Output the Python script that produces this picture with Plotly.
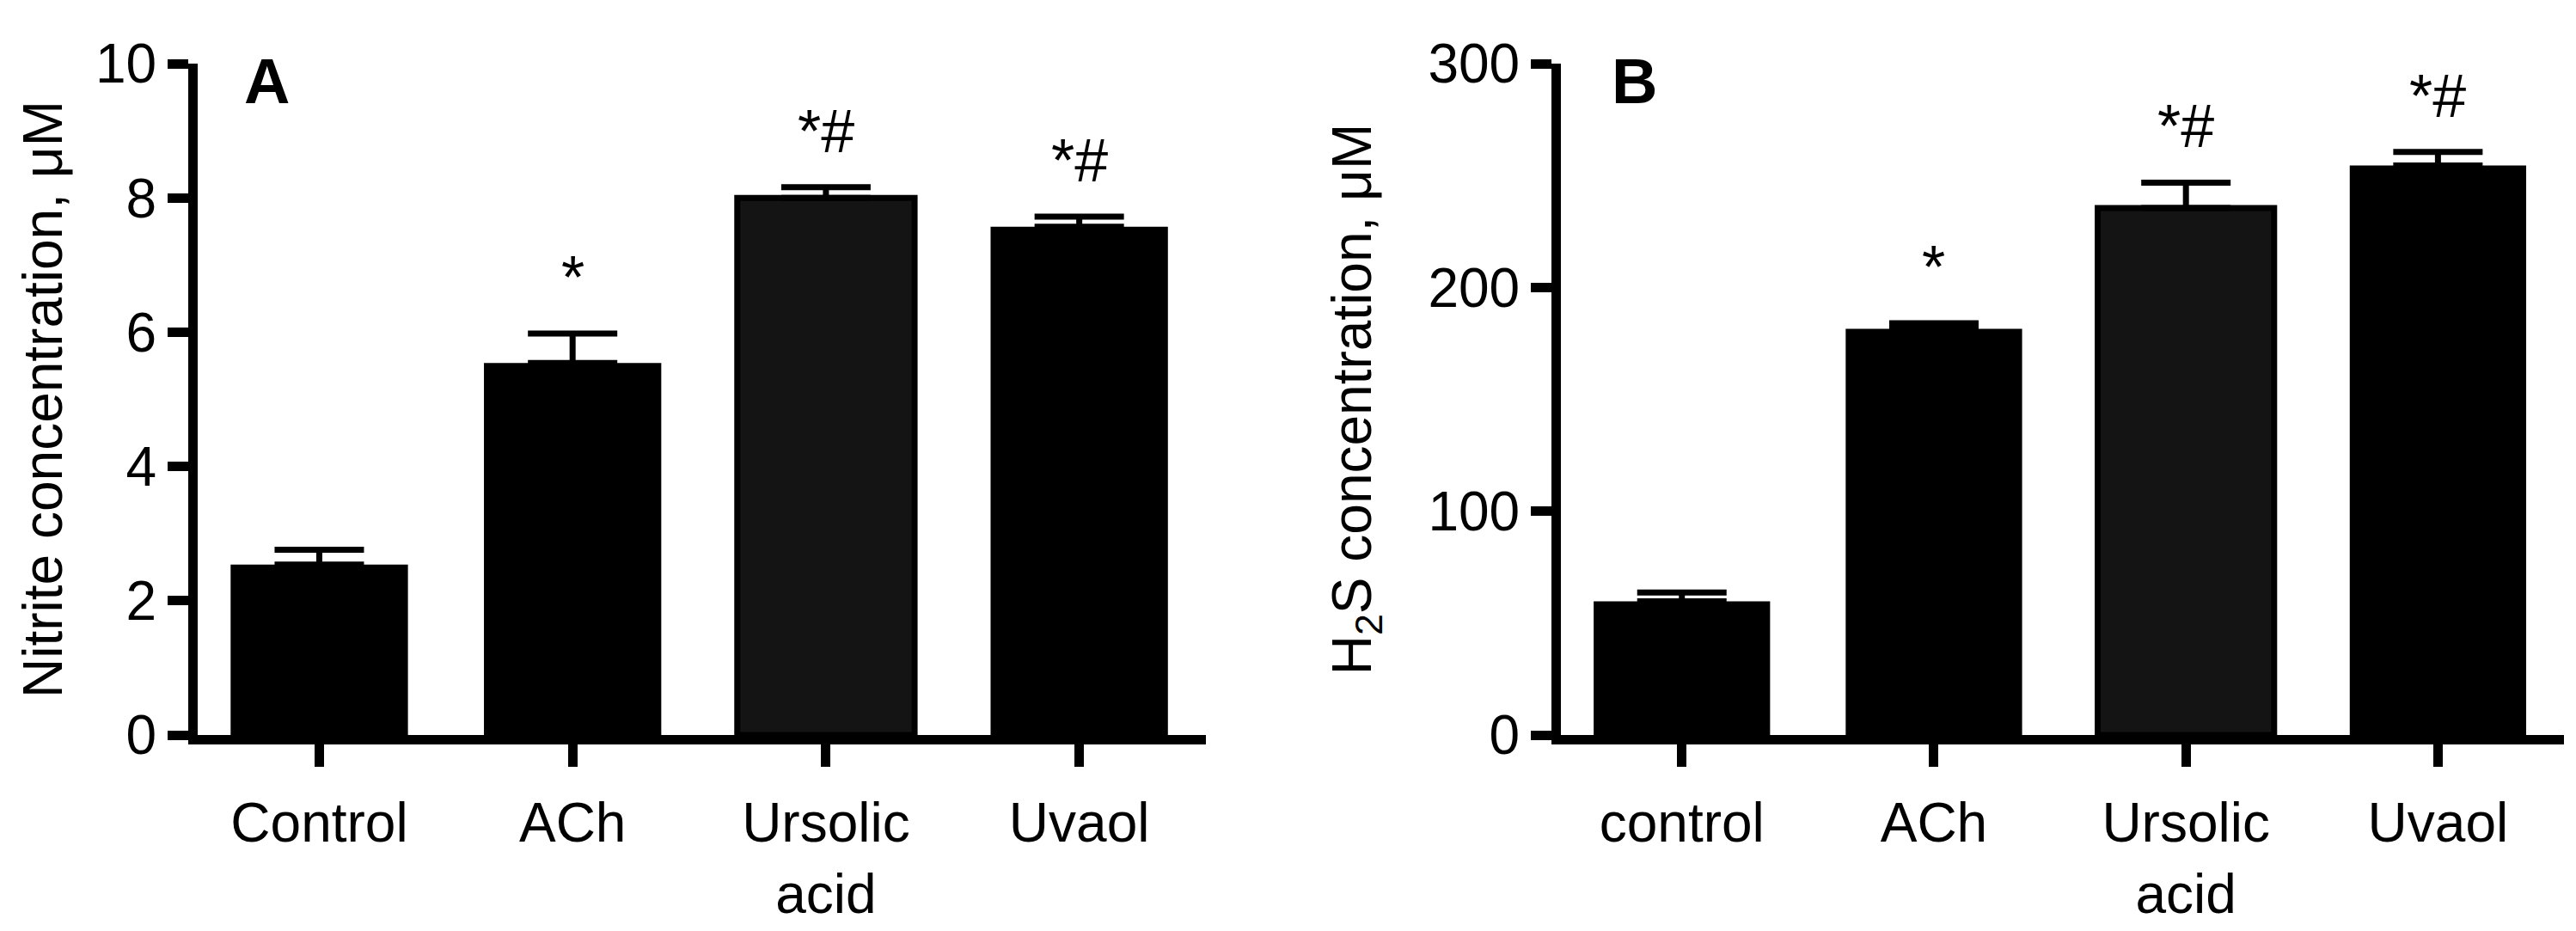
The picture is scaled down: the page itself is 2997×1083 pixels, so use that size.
import plotly.graph_objects as go

# ---------------------------------------------------------
# data
# ---------------------------------------------------------
groups_a = ["Control", "ACh", "Ursolic<br>acid", "Uvaol"]
groups_b = ["control", "ACh", "Ursolic<br>acid", "Uvaol"]

nitrite_mean = [2.54, 5.54, 8.0, 7.57]
nitrite_sem = [0.22, 0.44, 0.16, 0.15]

h2s_mean = [59.7, 181.5, 235.5, 254.5]
h2s_sem = [4.0, 2.5, 11.3, 6.0]

sig_marks = ["", "*", "*#", "*#"]
bar_colors = ["#000000", "#000000", "#141414", "#000000"]
edge_widths = [0, 0, 7, 0]

FONT = "Liberation Sans, Arial, sans-serif"
W, H = 2997, 1083

fig = go.Figure()

panels = [
    ("x", "y", groups_a, nitrite_mean, nitrite_sem),
    ("x2", "y2", groups_b, h2s_mean, h2s_sem),
]

for xa, ya, cats, means, sems in panels:
    fig.add_trace(go.Bar(
        x=cats, y=means, width=0.7,
        marker=dict(color=bar_colors, line=dict(color="black", width=edge_widths)),
        error_y=dict(type="data", array=sems, arrayminus=[0] * len(sems),
                     symmetric=False, color="black", thickness=7, width=52),
        xaxis=xa, yaxis=ya, showlegend=False,
    ))
    # significance marks above the error bars
    for c, m, s, txt in zip(cats, means, sems, sig_marks):
        if not txt:
            continue
        fig.add_annotation(
            x=c, y=m + s, xref=xa, yref=ya, text=txt, showarrow=False,
            yanchor="bottom", xanchor="center", yshift=24,
            font=dict(family=FONT, size=70, color="black"),
        )

common_x = dict(
    range=[-0.48, 3.5], showline=True, linecolor="black", linewidth=11,
    ticks="outside", ticklen=26, tickwidth=11, tickcolor="black",
    tickfont=dict(family=FONT, size=64, color="black"),
    showgrid=False, zeroline=False, ticklabelstandoff=10, automargin=False,
)
common_y = dict(
    showline=True, linecolor="black", linewidth=11,
    ticks="outside", ticklen=24, tickwidth=11, tickcolor="black",
    tickfont=dict(family=FONT, size=64, color="black"),
    showgrid=False, zeroline=False, automargin=False,
    domain=[(H - 847) / H, (H - 66) / H],
)

fig.update_layout(
    width=W, height=H,
    margin=dict(l=0, r=0, t=0, b=0, autoexpand=False),
    paper_bgcolor="white", plot_bgcolor="white",
    font=dict(family=FONT, color="black"),
    bargap=0.3,
    xaxis=dict(common_x, domain=[222 / W, 1395 / W], anchor="y"),
    yaxis=dict(common_y, anchor="x", range=[0, 10], tick0=0, dtick=2,
               title=dict(text="Nitrite concentration, μM", standoff=22,
                          font=dict(family=FONT, size=64, color="black"))),
    xaxis2=dict(common_x, domain=[1808 / W, 2975 / W], anchor="y2"),
    yaxis2=dict(common_y, anchor="x2", range=[0, 300], tick0=0, dtick=100,
                title=dict(text="H<sub>2</sub>S concentration, μM", standoff=50,
                           font=dict(family=FONT, size=64, color="black"))),
)

# panel letters
for xa, ya, letter, px in [("x", "y", "A", 0.069), ("x2", "y2", "B", 0.073)]:
    fig.add_annotation(
        x=px, y=0.974, xref=f"{xa} domain", yref=f"{ya} domain",
        text=f"<b>{letter}</b>", showarrow=False,
        xanchor="center", yanchor="middle",
        font=dict(family=FONT, size=74, color="black"),
    )

fig.write_html("out.html")
